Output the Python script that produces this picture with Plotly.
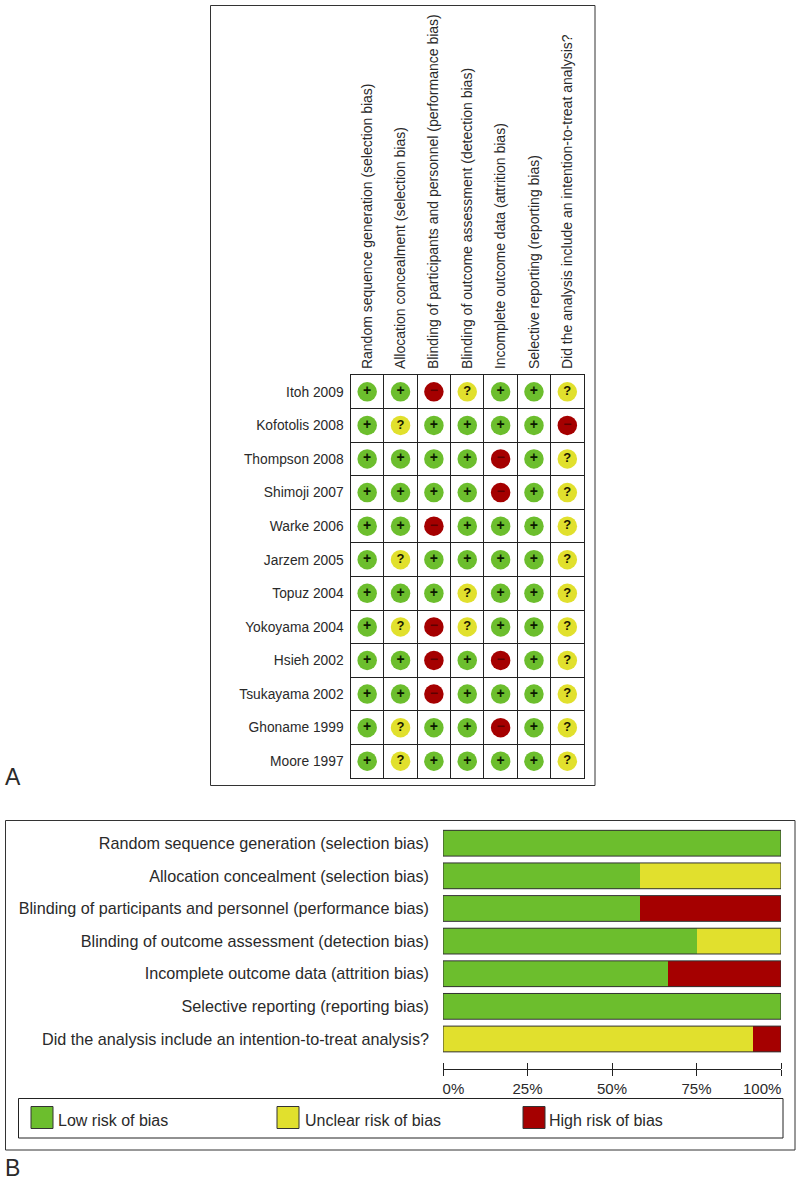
import plotly.graph_objects as go

studies = ["Itoh 2009", "Kofotolis 2008", "Thompson 2008", "Shimoji 2007", "Warke 2006", "Jarzem 2005",
           "Topuz 2004", "Yokoyama 2004", "Hsieh 2002", "Tsukayama 2002", "Ghoname 1999", "Moore 1997"]
domains = ["Random sequence generation (selection bias)", "Allocation concealment (selection bias)",
           "Blinding of participants and personnel (performance bias)", "Blinding of outcome assessment (detection bias)",
           "Incomplete outcome data (attrition bias)", "Selective reporting (reporting bias)",
           "Did the analysis include an intention-to-treat analysis?"]
judgements = ["++-?++?", "+?++++-", "++++-+?", "++++-+?", "++-+++?", "+?++++?",
              "+++?++?", "+?-?++?", "++-+-+?", "++-+++?", "+?++-+?", "+?++++?"]
low_pct = [100, 58.3, 58.3, 75, 66.7, 100, 0]
unclear_pct = [0, 41.7, 0, 25, 0, 0, 91.7]
high_pct = [0, 0, 41.7, 0, 33.3, 0, 8.3]
pct_ticks = [0, 25, 50, 75, 100]
pct_labels = ["\u00a0" * 5 + "0%", "25%", "50%", "75%", ""]
end_label = "100%"
levels = ["Low risk of bias", "Unclear risk of bias", "High risk of bias"]
GREEN, YELLOW, RED = "#6CBE2D", "#E1E02D", "#A50000"
colors = [GREEN, YELLOW, RED]
symbols = ["+", "?", "\u2212"]
sym_colors = ["#0b1a00", "#1a1a00", "#5e0000"]
FONT = "Liberation Sans"
INK = "#2a2a2a"
W, H = 800, 1182
BAR_W = 0.79


def px(x):
    return x / W


def py(y):
    return 1 - y / H


fig = go.Figure()

# Panel A: one trace per judgement level
for sym, col, tcol, name in zip("+?-", colors, sym_colors, levels):
    xs, ys = [], []
    for r, row in enumerate(judgements):
        for c, j in enumerate(row):
            if j == sym:
                xs.append(c)
                ys.append(r)
    fig.add_trace(go.Scatter(
        x=xs, y=ys, mode="markers+text", name=name, showlegend=False,
        marker=dict(size=19.5, color=col, line=dict(width=0)),
        text=[symbols[colors.index(col)]] * len(xs), textposition="middle center",
        textfont=dict(family=FONT, size=14 if sym != "?" else 13, color=tcol, weight="bold"),
        xaxis="x", yaxis="y", cliponaxis=False))

# Panel B
for vals, col, name in zip([low_pct, unclear_pct, high_pct], colors, levels):
    fig.add_trace(go.Bar(
        y=domains, x=vals, orientation="h", name=name, showlegend=False, width=BAR_W,
        marker=dict(color=col, line=dict(width=0)),
        xaxis="x2", yaxis="y2"))

bar_outlines = [dict(type="rect", xref="x2", yref="y2", x0=0, x1=100, y0=i - BAR_W / 2, y1=i + BAR_W / 2,
                     line=dict(color="#333", width=1), layer="above")
                for i in range(len(domains))]

fig.update_layout(
    width=W, height=H, margin=dict(l=0, r=0, t=0, b=0, autoexpand=False), paper_bgcolor="white", plot_bgcolor="white",
    barmode="stack", showlegend=False, font=dict(family=FONT, color=INK),
    xaxis=dict(domain=[px(350.5), px(584)], range=[-0.5, 6.5], side="top", tickmode="array", automargin=False,
               tickvals=list(range(7)), ticktext=domains, tickangle=-90, tickfont=dict(size=14, color=INK),
               ticks="", ticklabelstandoff=2, showgrid=False, zeroline=False, showline=True, mirror=True,
               linecolor="#222", linewidth=1.2, anchor="y",
               minor=dict(tickmode="array", tickvals=[i + 0.5 for i in range(-1, 7)], showgrid=True,
                          gridcolor="#222", gridwidth=1.2, ticks="")),
    yaxis=dict(domain=[py(778), py(375)], range=[11.5, -0.5], tickmode="array", tickvals=list(range(12)),
               ticktext=studies, tickfont=dict(size=13.8, color=INK), ticks="", ticklabelstandoff=3, automargin=False,
               showgrid=False, zeroline=False, showline=True, mirror=True, linecolor="#222", linewidth=1.2,
               anchor="x",
               minor=dict(tickmode="array", tickvals=[i + 0.5 for i in range(-1, 12)], showgrid=True,
                          gridcolor="#222", gridwidth=1.2, ticks="")),
    xaxis2=dict(domain=[px(443), px(781)], range=[0, 100], tickmode="array", tickvals=pct_ticks, automargin=False,
                ticktext=pct_labels, ticks="outside", ticklen=6, tickcolor="#222", tickwidth=1,
                tickfont=dict(size=15, color=INK), showgrid=False, zeroline=False, showline=True,
                linecolor="#222", linewidth=1, anchor="free", position=py(1069),
                minor=dict(tickmode="array", tickvals=[0.001, 25.001, 50.001, 75.001, 99.999],
                           ticks="inside", ticklen=6, tickcolor="#222", tickwidth=1, showgrid=False)),
    yaxis2=dict(domain=[py(1055.3), py(826.9)], autorange="reversed", categoryorder="array", categoryarray=domains,
                tickfont=dict(size=16.2, color=INK), ticks="", ticklabelstandoff=13, showgrid=False, automargin=False,
                zeroline=False, showline=False, anchor="x2"),
    shapes=bar_outlines + [
        dict(type="rect", xref="paper", yref="paper", x0=px(210.5), x1=px(595), y0=py(5.5), y1=py(785.5),
             line=dict(color="#333", width=1)),
        dict(type="rect", xref="paper", yref="paper", x0=px(5.5), x1=px(795), y0=py(820.5), y1=py(1150),
             line=dict(color="#333", width=1)),
        dict(type="rect", xref="paper", yref="paper", x0=px(18.5), x1=px(783), y0=py(1098.5), y1=py(1138),
             line=dict(color="#222", width=1)),
    ] + [dict(type="rect", xref="paper", yref="paper", x0=px(x0), x1=px(x0 + 22), y0=py(1106.5), y1=py(1128.5),
              fillcolor=c, line=dict(color="#333", width=1))
         for x0, c in zip([31, 277, 523], colors)],
    annotations=[dict(xref="paper", yref="paper", x=px(x0), y=py(1120), text=t, showarrow=False,
                      xanchor="left", yanchor="middle", font=dict(size=16, color=INK), xshift=-2)
                 for x0, t in zip([58, 305, 549], levels)] + [
        dict(xref="paper", yref="paper", x=px(3), y=py(777), text="A", showarrow=False, xanchor="left",
             yanchor="middle", font=dict(size=23, color=INK)),
        dict(xref="paper", yref="paper", x=px(3), y=py(1168), text="B", showarrow=False, xanchor="left",
             yanchor="middle", font=dict(size=23, color=INK)),
        dict(xref="x2", yref="paper", x=pct_ticks[-1], y=py(1088.5), text=end_label, showarrow=False, xanchor="right",
             yanchor="middle", xshift=2, font=dict(size=15, color=INK)),
    ],
)
fig.write_html("out.html", config=dict(displayModeBar=False),
               post_script="document.body.style.margin='0';document.documentElement.style.overflow='hidden';")
